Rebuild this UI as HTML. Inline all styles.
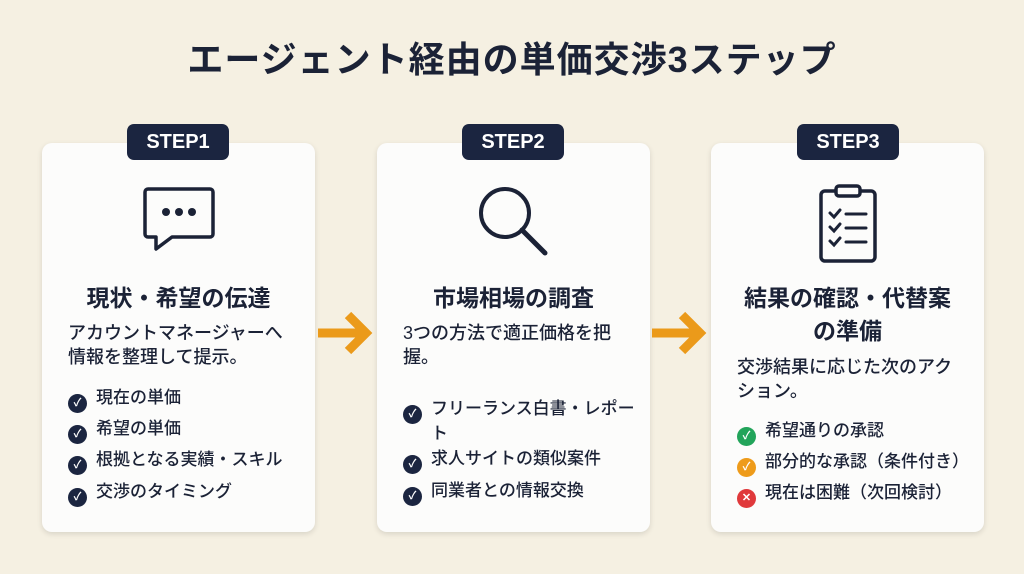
<!DOCTYPE html>
<html><head><meta charset="utf-8"><style>
*{margin:0;padding:0;box-sizing:border-box}
body{width:1024px;height:574px;background:#f5f0e2;font-family:"Liberation Sans","Noto Sans CJK JP",sans-serif;color:#1b2236;position:relative;overflow:hidden}
.title{position:absolute;top:31px;left:0;width:1024px;text-align:center;font-size:36px;font-weight:700;letter-spacing:1px}
.card{position:absolute;top:143px;width:273px;height:389px;background:#fcfcfb;border-radius:10px;box-shadow:0 2px 6px rgba(0,0,0,.12)}
.badge{position:absolute;top:124px;width:102px;height:36px;background:#1b2540;border-radius:7px;color:#fff;font-weight:700;font-size:20px;text-align:center;line-height:36px}
.h{position:absolute;left:0;width:273px;text-align:center;font-size:23px;font-weight:700;line-height:33px}
.d{position:absolute;left:26px;width:245px;font-size:18px;font-weight:500;line-height:24px;white-space:nowrap}
.li{position:absolute;left:26px;font-size:17px;font-weight:500;line-height:24px;white-space:nowrap}
.ck{display:inline-block;width:19px;height:19px;border-radius:50%;background:#1b2540;color:#fff;font-size:11px;text-align:center;line-height:19px;vertical-align:-3px;margin-right:9px;font-weight:700}
.arrow{position:absolute;top:310px}
</style></head><body>
<div class="title">エージェント経由の単価交渉3ステップ</div>

<div class="card" style="left:42px">
 <svg style="position:absolute;left:100px;top:42px" width="74" height="68" viewBox="0 0 74 68"><path d="M6 4h62a3 3 0 0 1 3 3v42a3 3 0 0 1-3 3H30L14 64V52H6a3 3 0 0 1-3-3V7a3 3 0 0 1 3-3z" fill="none" stroke="#1b2236" stroke-width="3.5" stroke-linejoin="round"/><circle cx="24" cy="27" r="4" fill="#1b2236"/><circle cx="37" cy="27" r="4" fill="#1b2236"/><circle cx="50" cy="27" r="4" fill="#1b2236"/></svg>
 <div class="h" style="top:139px">現状・希望の伝達</div>
 <div class="d" style="top:178px">アカウントマネージャーへ<br>情報を整理して提示。</div>
 <div class="li" style="top:243px"><span class="ck">✓</span>現在の単価</div>
 <div class="li" style="top:274px"><span class="ck">✓</span>希望の単価</div>
 <div class="li" style="top:305px"><span class="ck">✓</span>根拠となる実績・スキル</div>
 <div class="li" style="top:337px"><span class="ck">✓</span>交渉のタイミング</div>
</div>
<div class="badge" style="left:127px">STEP1</div>

<div class="card" style="left:377px">
 <svg style="position:absolute;left:98px;top:40px" width="76" height="76" viewBox="0 0 76 76"><circle cx="30" cy="30" r="24" fill="none" stroke="#1b2236" stroke-width="4"/><line x1="47" y1="47" x2="70" y2="70" stroke="#1b2236" stroke-width="5" stroke-linecap="round"/></svg>
 <div class="h" style="top:139px">市場相場の調査</div>
 <div class="d" style="top:178px">3つの方法で適正価格を把<br>握。</div>
 <div class="li" style="top:256px;line-height:19px;padding-left:28px;text-indent:-28px"><span class="ck" style="text-indent:0">✓</span>フリーランス白書・レポー<br>ト</div>
 <div class="li" style="top:304px"><span class="ck">✓</span>求人サイトの類似案件</div>
 <div class="li" style="top:336px"><span class="ck">✓</span>同業者との情報交換</div>
</div>
<div class="badge" style="left:462px">STEP2</div>

<div class="card" style="left:711px">
 <svg style="position:absolute;left:107px;top:40px" width="60" height="82" viewBox="0 0 60 82"><rect x="3" y="8" width="54" height="70" rx="4" fill="none" stroke="#1b2236" stroke-width="3.5"/><rect x="18" y="3" width="24" height="10" rx="3" fill="#fcfcfb" stroke="#1b2236" stroke-width="3.5"/><g stroke="#1b2236" stroke-width="3" fill="none" stroke-linecap="round"><path d="M12 30l4 4 6-7M12 44l4 4 6-7M12 58l4 4 6-7"/><line x1="28" y1="31" x2="48" y2="31"/><line x1="28" y1="45" x2="48" y2="45"/><line x1="28" y1="59" x2="48" y2="59"/></g></svg>
 <div class="h" style="top:139px">結果の確認・代替案<br>の準備</div>
 <div class="d" style="top:212px">交渉結果に応じた次のアク<br>ション。</div>
 <div class="li" style="top:276px"><span class="ck" style="background:#22a45a">✓</span>希望通りの承認</div>
 <div class="li" style="top:307px"><span class="ck" style="background:#ee9b1a">✓</span>部分的な承認（条件付き）</div>
 <div class="li" style="top:338px"><span class="ck" style="background:#e0393b">✕</span>現在は困難（次回検討）</div>
</div>
<div class="badge" style="left:797px">STEP3</div>

<svg class="arrow" style="left:316px" width="58" height="46" viewBox="0 0 58 46"><path d="M2 23h48M32 5l18 18-18 18" fill="none" stroke="#eb9a1a" stroke-width="9" stroke-linejoin="miter"/></svg>
<svg class="arrow" style="left:650px" width="58" height="46" viewBox="0 0 58 46"><path d="M2 23h48M32 5l18 18-18 18" fill="none" stroke="#eb9a1a" stroke-width="9" stroke-linejoin="miter"/></svg>
</body></html>
